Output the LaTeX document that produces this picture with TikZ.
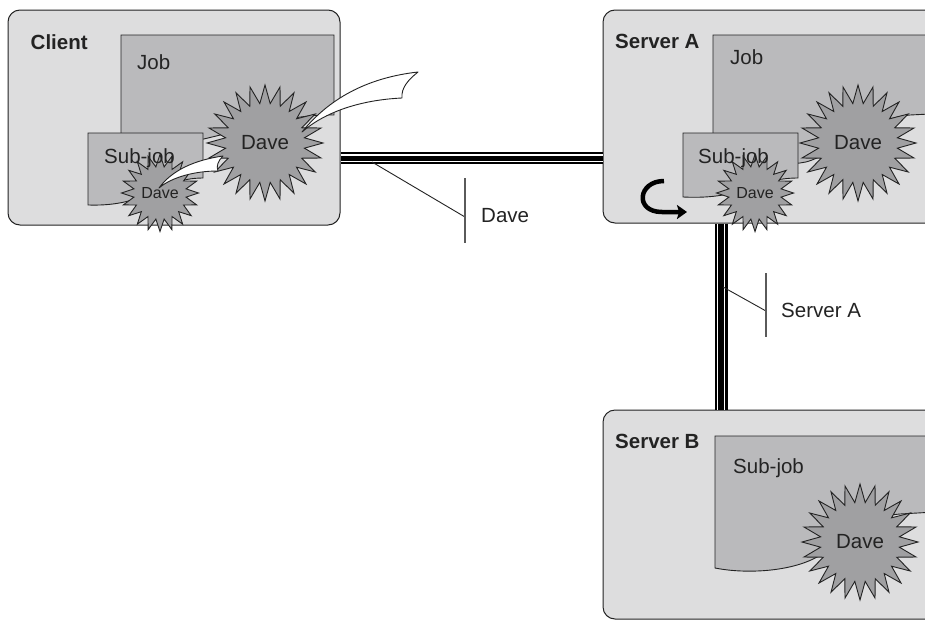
\documentclass[tikz,border=0pt]{standalone}
\usepackage{fontspec}
\setmainfont{Liberation Sans}
\usetikzlibrary{shapes.geometric,arrows.meta}
\definecolor{boxgray}{RGB}{221,221,222}
\definecolor{jobgray}{RGB}{186,186,188}
\definecolor{stargray}{RGB}{160,160,162}
\definecolor{edge}{RGB}{35,35,35}
\definecolor{tickgray}{RGB}{90,90,90}
\begin{document}
\begin{tikzpicture}[x=1pt,y=-1pt,
  hostbox/.style={draw=edge, fill=boxgray, rounded corners=12pt, line width=1pt, inner sep=0pt},
  docshape/.style={draw=edge, fill=jobgray, line width=0.9pt},
  burst/.style={star, star points=24, star point ratio=1.46, draw=edge, fill=stargray,
     line width=0.9pt, inner sep=0pt, minimum size=116pt, text=edge,
     font=\fontsize{20.5}{24}\selectfont},
  smallburst/.style={burst, star points=20, minimum size=62pt, font=\fontsize{16}{19}\selectfont},
  lbl/.style={inner sep=0pt, anchor=base west, text=edge, font=\fontsize{20.5}{24}\selectfont},
  hosttitle/.style={lbl, font=\bfseries\fontsize{20.5}{24}\selectfont},
  comet/.style={draw=edge, fill=white, line width=0.9pt, line join=round},
  linkblack/.style={draw=black, line width=12.6pt},
  linkwhite/.style={draw=white, line width=1.3pt},
  callout/.style={draw=edge, line width=0.9pt},
  tick/.style={draw=tickgray, line width=1.3pt},
  turnarrow/.style={draw=black, line width=4.5pt, -{Stealth[length=10pt,width=14pt,inset=2pt]}}
]
\path[use as bounding box] (0,0) rectangle (925,621);
\clip (0,0) rectangle (925,621);
\fill[white] (0,0) rectangle (925,621);

% host boxes
\node[hostbox, minimum width=332pt, minimum height=215pt] (client) at (174,117.5) {};
\node[hostbox, minimum width=360pt, minimum height=213pt] (serverA) at (783,116.5) {};
\node[hostbox, minimum width=360pt, minimum height=209pt] (serverB) at (783,514.5) {};

% links
\coordinate (hrow) at (0,158);
\coordinate (vcol) at (721.6,0);
\draw[linkblack] (client.east |- hrow) -- (serverA.west |- hrow);
\draw[linkwhite] ([yshift=-3.7pt]client.east |- hrow) -- ([yshift=-3.7pt]serverA.west |- hrow);
\draw[linkwhite] ([yshift=3pt]client.east |- hrow) -- ([yshift=3pt]serverA.west |- hrow);
\draw[linkblack] (serverA.south -| vcol) -- (serverB.north -| vcol);
\draw[linkwhite] ([xshift=-4.3pt]serverA.south -| vcol) -- ([xshift=-4.3pt]serverB.north -| vcol);
\draw[linkwhite] ([xshift=2.7pt]serverA.south -| vcol) -- ([xshift=2.7pt]serverB.north -| vcol);

% link labels
\coordinate (dfoot) at (372,162);
\coordinate (dknee) at (465,217);
\coordinate (dtop) at (465,178);
\coordinate (dbot) at (465,243);
\draw[callout] (dfoot) -- (dknee);
\draw[tick] (dtop) -- (dbot);
\node[lbl] (davelabel) at (481,222) {Dave};

\coordinate (sfoot) at (723,287);
\coordinate (sknee) at (766,311);
\coordinate (stop) at (766,273);
\coordinate (sbot) at (766,337);
\draw[callout] (sfoot) -- (sknee);
\draw[tick] (stop) -- (sbot);
\node[lbl] (salabel) at (781,317) {Server A};

% ---------- Client ----------
\node[hosttitle] (clienttitle) at (30.5,49) {Client};
\path[docshape] (121,35) -- (334,35) -- (334,115)
   .. controls (270,113) and (200,150) .. (121,150) -- cycle;
\node[lbl] (cjob) at (137,69) {Job};
\path[docshape] (88,133) -- (203,133) -- (203,178)
   .. controls (160,178) and (150,207) .. (88,205) -- cycle;
\node[burst] (cdave) at (265,143) {Dave};
\node[smallburst] (csdave) at (160,193) {Dave};
\node[lbl] (csub) at (104,163) {Sub-job};
\path[comet] (cdave.center) ++(37,-11) coordinate (ctip)
   (ctip) .. controls (328,100) and (365,78) .. (418,72)
   .. controls (408,80) and (401,88) .. (402,98)
   .. controls (360,100) and (325,112) .. (ctip) -- cycle;
\path[comet] (csdave.center) ++(-1,-5) coordinate (cstip)
   (cstip) .. controls (172,170) and (195,160) .. (223,156)
   .. controls (218,161) and (216,166) .. (218,171)
   .. controls (195,171) and (172,177) .. (cstip) -- cycle;

% ---------- Server A ----------
\node[hosttitle] (satitle) at (615,48) {Server A};
\path[docshape] (713,35) -- (970,35) -- (970,112) -- (910,115)
   .. controls (860,120) and (830,160) .. (800,163)
   .. controls (760,166) and (730,170) .. (713,170) -- cycle;
\node[lbl] (sajob) at (730,64) {Job};
\path[docshape] (683,133) -- (798,133) -- (798,178)
   .. controls (755,178) and (745,200) .. (683,197) -- cycle;
\node[burst] (sadave) at (858,143) {Dave};
\node[smallburst] (sasdave) at (755,193) {Dave};
\node[lbl] (sasub) at (698,163) {Sub-job};
\coordinate (turnstart) at (664,181);
\coordinate (turnend) at (687,212);
\draw[turnarrow] (turnstart) .. controls (638,181) and (634,212) .. (662,212) -- (turnend);

% ---------- Server B ----------
\node[hosttitle] (sbtitle) at (615,448) {Server B};
\path[docshape] (715,436) -- (970,436) -- (970,510) -- (900,514)
   .. controls (860,517) and (845,545) .. (817,557)
   .. controls (790,572) and (745,574) .. (715,568) -- cycle;
\node[lbl] (sbsub) at (733,473) {Sub-job};
\node[burst] (sbdave) at (860,542) {Dave};
\end{tikzpicture}
\end{document}
